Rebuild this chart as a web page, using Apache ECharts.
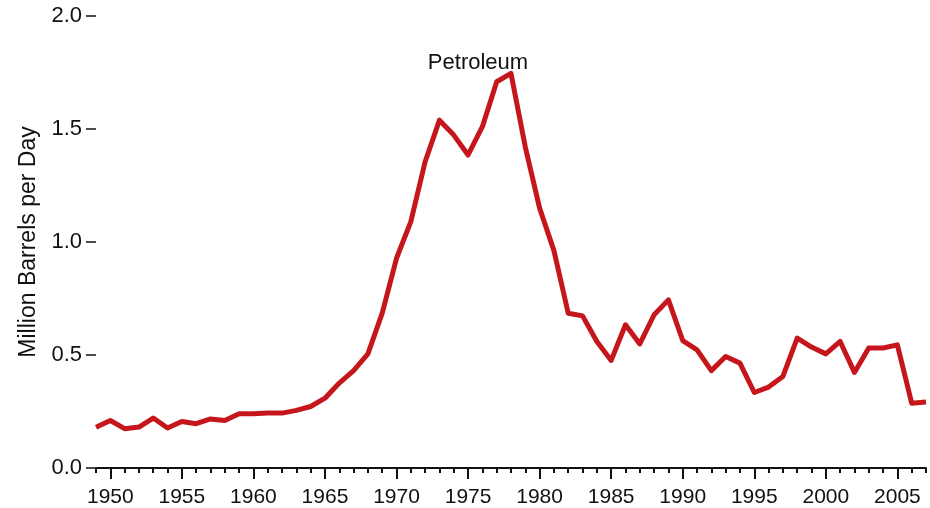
<!DOCTYPE html>
<html>
<head>
<meta charset="utf-8">
<script src="https://cdn.jsdelivr.net/npm/echarts@6/dist/echarts.min.js"></script>
<style>
  html, body { margin: 0; padding: 0; background: #fff; }
  #chart { width: 930px; height: 508px; }
</style>
</head>
<body>
<div id="chart"></div>
<script>
const years = []
for (let y = 1949; y <= 2007; y++) years.push(String(y))

const petroleum = [
  0.18, 0.21, 0.174, 0.181, 0.221, 0.177, 0.206, 0.196, 0.217, 0.21,
  0.24, 0.24, 0.243, 0.243, 0.255, 0.272, 0.309, 0.376, 0.431, 0.505,
  0.685, 0.928, 1.09, 1.355, 1.539, 1.473, 1.385, 1.51, 1.709, 1.746,
  1.42, 1.15, 0.962, 0.685, 0.673, 0.56, 0.476, 0.634, 0.549, 0.678,
  0.744, 0.564, 0.523, 0.431, 0.493, 0.464, 0.334, 0.358, 0.405, 0.575,
  0.535, 0.505, 0.56, 0.423, 0.531, 0.531, 0.545, 0.287, 0.292
]

const yTicks = [0, 0.5, 1.0, 1.5, 2.0]

const font = 'Liberation Sans, Arial, sans-serif'
const chart = echarts.init(document.getElementById('chart'))

chart.setOption({
  animation: false,
  title: {
    text: 'Petroleum',
    left: 473,
    top: 47,
    textAlign: 'center',
    textStyle: { fontFamily: font, fontSize: 22, fontWeight: 'normal', color: '#111' }
  },
  grid: { left: 96, right: 4, top: 16, bottom: 40, containLabel: false },
  xAxis: [
    {
      type: 'category',
      data: years,
      boundaryGap: false,
      axisLine: { lineStyle: { color: '#111', width: 2 } },
      axisTick: { interval: 0, length: 5, lineStyle: { color: '#111', width: 2 } },
      axisLabel: { show: false }
    },
    {
      type: 'category',
      data: years,
      boundaryGap: false,
      position: 'bottom',
      axisLine: { show: false },
      axisTick: {
        interval: (i, v) => Number(v) % 5 === 0,
        length: 11,
        lineStyle: { color: '#111', width: 2 }
      },
      axisLabel: {
        interval: (i, v) => Number(v) % 5 === 0,
        margin: 19,
        fontFamily: font,
        fontSize: 21,
        color: '#111'
      }
    }
  ],
  yAxis: {
    type: 'value',
    min: yTicks[0],
    max: yTicks[yTicks.length - 1],
    interval: 0.5,
    name: 'Million Barrels per Day',
    nameLocation: 'middle',
    nameGap: 56,
    nameTextStyle: { fontFamily: font, fontSize: 23, color: '#111' },
    splitLine: { show: false },
    axisLine: { show: false },
    axisTick: { show: true, length: 10, lineStyle: { color: '#111', width: 1.5 } },
    axisLabel: {
      margin: 14,
      fontFamily: font,
      fontSize: 22,
      color: '#111',
      formatter: v => v.toFixed(1)
    }
  },
  series: [
    {
      name: 'Petroleum',
      type: 'line',
      xAxisIndex: 0,
      data: petroleum,
      symbol: 'none',
      lineStyle: { color: '#c5161c', width: 5, join: 'round' }
    }
  ]
})
</script>
</body>
</html>
